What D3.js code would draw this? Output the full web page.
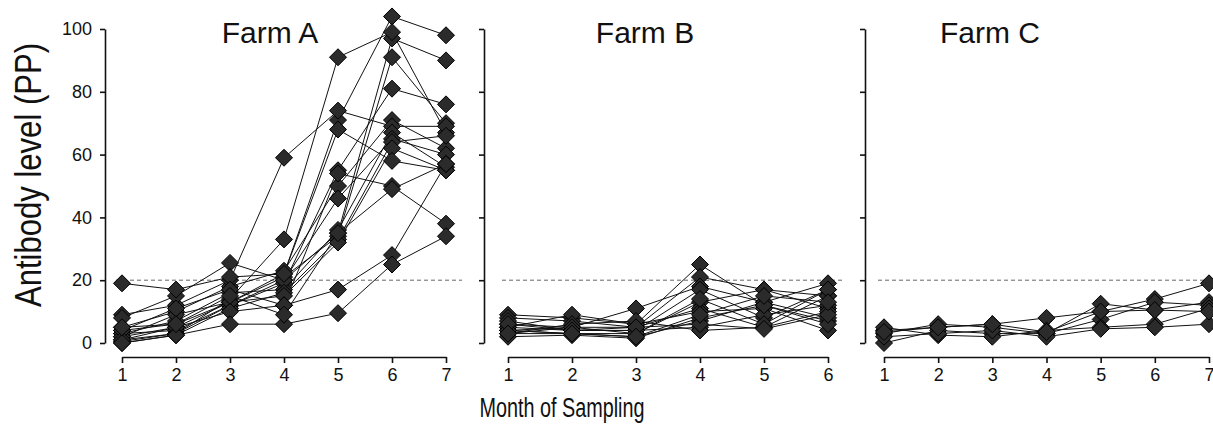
<!DOCTYPE html>
<html><head><meta charset="utf-8">
<script src="https://cdn.jsdelivr.net/npm/d3@7"></script>
<style>
body{margin:0;background:#fff}
svg{display:block}
text{font-family:"Liberation Sans",Arial,Helvetica,sans-serif;fill:#111}
</style>
</head><body>
<svg id="chart" width="1213" height="425"></svg>
<script>
// ---------------- data ----------------
const panelTitles = ["Farm A", "Farm B", "Farm C"];
const monthsA = [1, 2, 3, 4, 5, 6, 7];
const monthsB = [1, 2, 3, 4, 5, 6];
const monthsC = [1, 2, 3, 4, 5, 6, 7];
const yTicks = [0, 20, 40, 60, 80, 100];
const threshold = 20;
const yLabel = "Antibody level (PP)";
const xLabel = "Month of Sampling";

// each row = one animal, values by month
const farmA = [
  [2, 5, 13, 22, 71, 104, 98],
  [3, 4, 12, 20, 35, 97, 90],
  [1, 3, 14, 33, 91, 99, 67],
  [4, 6, 13, 21, 34, 91, 70],
  [0.5, 3, 12, 19, 55, 81, 76],
  [5, 10, 18, 23, 50, 71, 62],
  [9, 12, 20, 59, 74, 69, 69],
  [3, 7, 16, 17, 36, 67, 56],
  [8, 15, 25.5, 20, 46, 65, 60],
  [0, 2.5, 11, 16, 33, 64, 66],
  [2, 9, 13, 15, 32, 62, 55],
  [19, 17, 21, 22, 68, 58, 55],
  [4, 11, 17, 12, 54, 50, 38],
  [1, 5, 10, 12, 17, 28, 57],
  [0, 2.5, 6, 6, 9.5, 25, 34],
  [5, 6, 15, 9, 35, 49, 57]
];
const farmB = [
  [9, 8, 6, 25, 12, 7],
  [8, 7, 5, 21, 17, 15],
  [6, 5, 11, 18, 13, 19],
  [5, 4, 4, 17, 8, 17],
  [4, 3, 3, 13, 17, 11],
  [3, 5, 5, 11, 5, 15],
  [5, 9, 6, 10, 11, 4],
  [4, 3, 2, 7, 13, 8],
  [7, 4, 4, 5, 9, 12],
  [3, 6, 7, 4, 5, 10],
  [2, 2.5, 1.5, 8, 12, 6],
  [4, 5, 3, 14, 6, 17],
  [6, 4, 5, 6, 4.5, 9],
  [3, 3, 2, 9, 15, 13]
];
const farmC = [
  [4, 5, 6, 8, 10, 14, 19],
  [3, 6, 5, 3, 12.5, 10.5, 13],
  [0, 4, 3, 3, 7.5, 13, 12],
  [5, 2.5, 2, 4, 5, 6, 11],
  [2, 3, 4, 2, 4.5, 5, 6],
  [3.5, 5, 6, 3.5, 10, 10.5, 10]
];

// ---------------- layout ----------------
const W = 1213, H = 425;
const svg = d3.select("#chart");
const y = d3.scaleLinear().domain([0, 100]).range([343, 29]);
const xAxisY = 357;
const panels = [
  {title: panelTitles[0], months: monthsA, data: farmA, axisX: 105, range: [122, 446], titleX: 270, labels: true},
  {title: panelTitles[1], months: monthsB, data: farmB, axisX: 484, range: [508, 828], titleX: 645, labels: false},
  {title: panelTitles[2], months: monthsC, data: farmC, axisX: 865, range: [884, 1209], titleX: 990, labels: false}
];
const r = 8.5;
const diamond = `M0,${-r}L${r},0L0,${r}L${-r},0Z`;

panels.forEach(p => {
  const x = d3.scaleLinear().domain(d3.extent(p.months)).range(p.range);
  const g = svg.append("g");

  // y axis
  const ya = d3.axisLeft(y).tickValues(yTicks).tickSize(5).tickSizeOuter(0).tickPadding(8);
  if (!p.labels) ya.tickFormat("");
  const yg = g.append("g").attr("transform", `translate(${p.axisX},0)`).call(ya);
  yg.select(".domain").attr("stroke", "#111").attr("stroke-width", 1.6);
  yg.selectAll(".tick line").attr("stroke", "#111").attr("stroke-width", 1.6);
  yg.selectAll(".tick text").attr("font-size", 18).attr("fill", "#111");

  // x axis
  const xa = d3.axisBottom(x).tickValues(p.months).tickFormat(d3.format("d")).tickSize(6).tickSizeOuter(0).tickPadding(5);
  const xg = g.append("g").attr("transform", `translate(0,${xAxisY})`).call(xa);
  xg.select(".domain").attr("stroke", "#111").attr("stroke-width", 1.6);
  xg.selectAll(".tick line").attr("stroke", "#111").attr("stroke-width", 1.6);
  xg.selectAll(".tick text").attr("font-size", 18).attr("fill", "#111");

  // threshold dashed line
  g.append("line")
    .attr("x1", x(p.months[0]) - 6)
    .attr("x2", Math.min(W, x(p.months[p.months.length - 1]) + 16))
    .attr("y1", y(threshold)).attr("y2", y(threshold))
    .attr("stroke", "#666").attr("stroke-width", 1).attr("stroke-dasharray", "4,3");

  // lines
  const line = d3.line().x((d, i) => x(p.months[i])).y(d => y(d));
  g.append("g").selectAll("path").data(p.data).join("path")
    .attr("d", line).attr("fill", "none").attr("stroke", "#111").attr("stroke-width", 1);

  // markers
  const pts = [];
  p.data.forEach(row => row.forEach((v, i) => pts.push({m: p.months[i], v})));
  g.append("g").selectAll("path").data(pts).join("path")
    .attr("d", diamond)
    .attr("transform", d => `translate(${x(d.m)},${y(d.v)})`)
    .attr("fill", "#2b2b2b").attr("stroke", "#000").attr("stroke-width", 1);

  // title
  g.append("text").attr("x", p.titleX).attr("y", 43)
    .attr("text-anchor", "middle").attr("font-size", 30).text(p.title);
});

// axis titles
svg.append("text")
  .attr("transform", "translate(41,175) rotate(-90)")
  .attr("text-anchor", "middle").attr("font-size", 36)
  .attr("textLength", 264).attr("lengthAdjust", "spacingAndGlyphs")
  .text(yLabel);
svg.append("text")
  .attr("x", 562).attr("y", 417)
  .attr("text-anchor", "middle").attr("font-size", 27)
  .attr("textLength", 165).attr("lengthAdjust", "spacingAndGlyphs")
  .text(xLabel);
</script>
</body></html>
